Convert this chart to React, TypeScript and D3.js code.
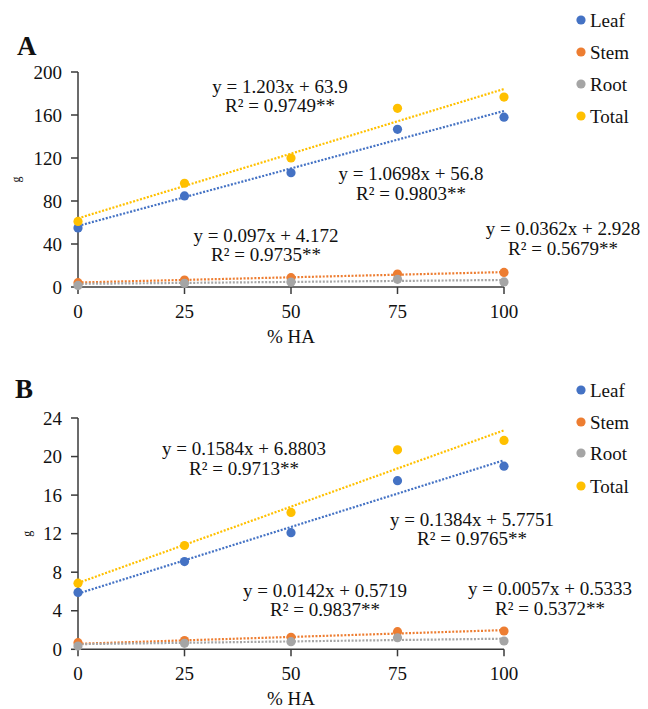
import React from "react";
import * as d3 from "d3";

const xValues = [0, 25, 50, 75, 100];
const seriesNames = ["Leaf", "Stem", "Root", "Total"];
const seriesColors = ["#4472C4", "#ED7D31", "#A5A5A5", "#FFC000"];

// Panel A (g)
const leafA = [55, 84.7, 106.3, 146.7, 158];
const stemA = [4, 6.5, 8.7, 12, 13.6];
const rootA = [1.5, 3.4, 4.6, 7.1, 4.7];
const totalA = [61, 96.5, 120, 166.2, 176.7];
const slopesA = [1.0698, 0.097, 0.0362, 1.203];
const interceptsA = [56.8, 4.172, 2.928, 63.9];
const r2A = [0.9803, 0.9735, 0.5679, 0.9749];
const yTicksA = [0, 40, 80, 120, 160, 200];

// Panel B (g)
const leafB = [5.9, 9.1, 12.1, 17.5, 19.0];
const stemB = [0.69, 0.9, 1.25, 1.83, 1.9];
const rootB = [0.34, 0.62, 0.79, 1.2, 0.86];
const totalB = [6.86, 10.77, 14.2, 20.7, 21.67];
const slopesB = [0.1384, 0.0142, 0.0057, 0.1584];
const interceptsB = [5.7751, 0.5719, 0.5333, 6.8803];
const r2B = [0.9765, 0.9837, 0.5372, 0.9713];
const yTicksB = [0, 4, 8, 12, 16, 20, 24];

const FONT = "Liberation Serif, DejaVu Serif, serif";

type PanelProps = {
  letter: string;
  letterPos: [number, number];
  series: number[][];
  slopes: number[];
  intercepts: number[];
  r2: number[];
  yTicks: number[];
  yTop: number;
  yBottom: number;
  gLabelX: number;
  legendY: number[];
  eqPos: [number, number][];
};

function Panel(p: PanelProps) {
  const x = d3.scaleLinear().domain([0, 100]).range([78, 504]);
  const yMax = p.yTicks[p.yTicks.length - 1];
  const y = d3.scaleLinear().domain([0, yMax]).range([p.yBottom, p.yTop]);
  const axisColor = "#3a3a3a";
  const fs = 19;
  return (
    <g style={{ fontFamily: FONT }} fill="#111">
      <text x={p.letterPos[0]} y={p.letterPos[1]} fontSize={27} fontWeight="bold">
        {p.letter}
      </text>
      {/* y axis */}
      <line x1={x(0)} x2={x(0)} y1={y(yMax)} y2={y(0)} stroke={axisColor} strokeWidth={1.5} />
      {p.yTicks.map((t) => (
        <g key={"yt" + t}>
          <line x1={x(0) - 7} x2={x(0)} y1={y(t)} y2={y(t)} stroke={axisColor} strokeWidth={1.5} />
          <text x={x(0) - 16} y={y(t) + 6.5} fontSize={fs} textAnchor="end">
            {t}
          </text>
        </g>
      ))}
      {/* x axis */}
      <line x1={x(0)} x2={x(100)} y1={y(0)} y2={y(0)} stroke={axisColor} strokeWidth={1.5} />
      {xValues.map((t) => (
        <g key={"xt" + t}>
          <line x1={x(t)} x2={x(t)} y1={y(0)} y2={y(0) + 7} stroke={axisColor} strokeWidth={1.5} />
          <text x={x(t)} y={y(0) + 31} fontSize={fs} textAnchor="middle">
            {t}
          </text>
        </g>
      ))}
      <text x={(x(0) + x(100)) / 2} y={y(0) + 56} fontSize={fs} textAnchor="middle">
        % HA
      </text>
      <text
        transform={`translate(${p.gLabelX},${(y(0) + y(yMax)) / 2}) rotate(-90)`}
        fontSize={12}
        textAnchor="middle"
      >
        g
      </text>
      {/* trendlines */}
      {p.series.map((_, i) => {
        const d = d3
          .line<number>()
          .x((v) => x(v))
          .y((v) => y(p.slopes[i] * v + p.intercepts[i]))([0, 100]);
        return (
          <path
            key={"tl" + i}
            d={d || ""}
            fill="none"
            stroke={seriesColors[i]}
            strokeWidth={2.2}
            strokeDasharray="2 1.6"
          />
        );
      })}
      {/* points */}
      {p.series.map((vals, i) =>
        vals.map((v, j) => (
          <circle key={"pt" + i + "-" + j} cx={x(xValues[j])} cy={y(v)} r={4.6} fill={seriesColors[i]} />
        ))
      )}
      {/* equations */}
      {p.series.map((_, i) => (
        <g key={"eq" + i} fontSize={fs} textAnchor="middle">
          <text x={p.eqPos[i][0]} y={p.eqPos[i][1]}>
            {`y = ${p.slopes[i]}x + ${p.intercepts[i]}`}
          </text>
          <text x={p.eqPos[i][0]} y={p.eqPos[i][1] + 19.5}>
            {`R² = ${p.r2[i]}**`}
          </text>
        </g>
      ))}
      {/* legend */}
      {seriesNames.map((n, i) => (
        <g key={"lg" + n}>
          <circle cx={581} cy={p.legendY[i]} r={4.6} fill={seriesColors[i]} />
          <text x={590} y={p.legendY[i] + 6.5} fontSize={fs}>
            {n}
          </text>
        </g>
      ))}
    </g>
  );
}

export default function App() {
  return (
    <svg
      width={648}
      height={709}
      style={{ position: "absolute", left: 0, top: 0, background: "#fff", fontFamily: FONT }}
    >
      <Panel
        letter="A"
        letterPos={[17, 55]}
        series={[leafA, stemA, rootA, totalA]}
        slopes={slopesA}
        intercepts={interceptsA}
        r2={r2A}
        yTicks={yTicksA}
        yTop={72}
        yBottom={287}
        gLabelX={20}
        legendY={[20, 52, 84, 116]}
        eqPos={[
          [411, 180],
          [266, 241.5],
          [563, 235],
          [280, 92.5],
        ]}
      />
      <Panel
        letter="B"
        letterPos={[15, 398]}
        series={[leafB, stemB, rootB, totalB]}
        slopes={slopesB}
        intercepts={interceptsB}
        r2={r2B}
        yTicks={yTicksB}
        yTop={418}
        yBottom={649.3}
        gLabelX={31}
        legendY={[390, 422, 453, 486]}
        eqPos={[
          [472, 525.7],
          [325, 596.7],
          [550, 595],
          [244, 455],
        ]}
      />
    </svg>
  );
}
